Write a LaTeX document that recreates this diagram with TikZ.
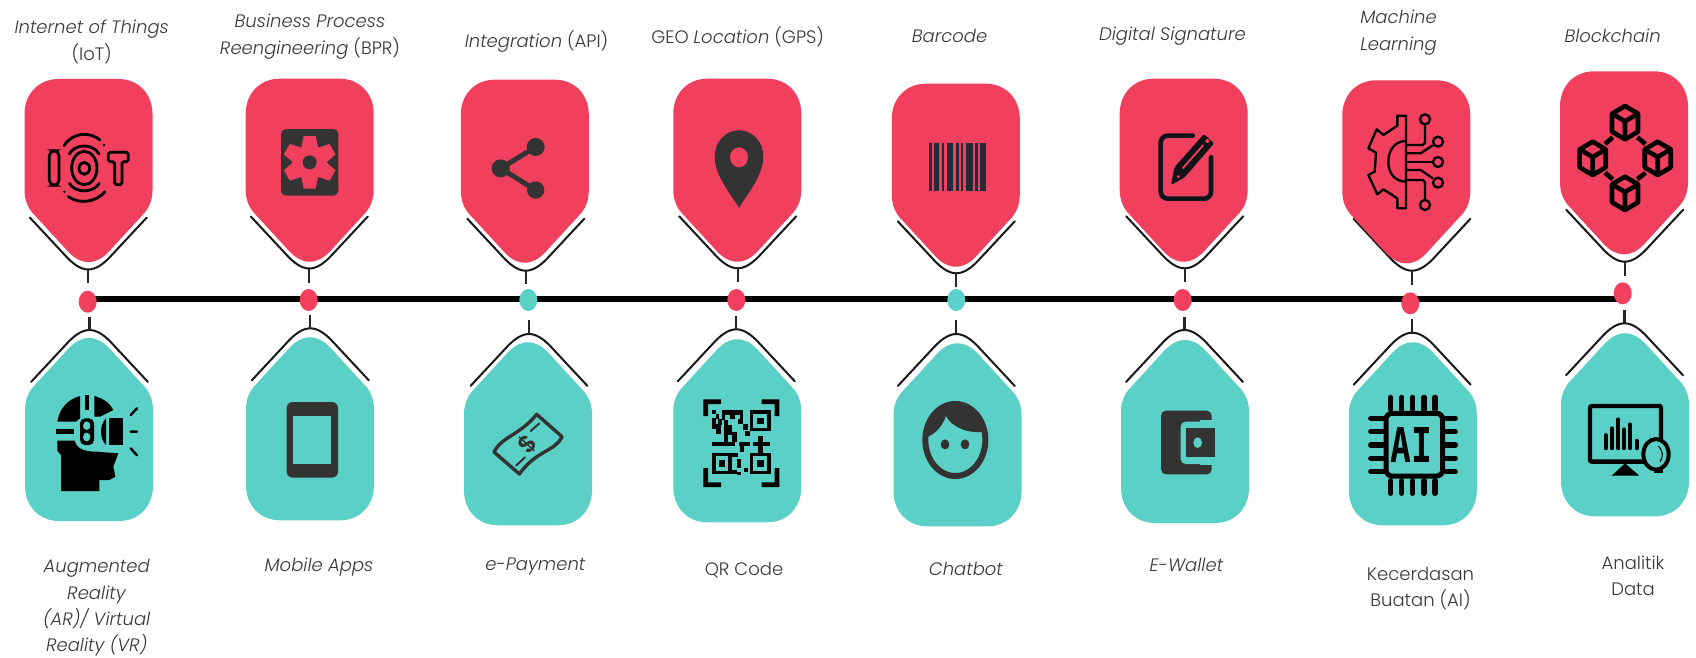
\documentclass[tikz,border=0pt]{standalone}
\usepackage{fontspec}
\usetikzlibrary{shapes.geometric}
\setmainfont{Poppins}[UprightFont=* Light,ItalicFont=* Light Italic]
\newfontfamily\aifont{DejaVu Sans Mono}
\definecolor{tagred}{HTML}{F0405E}
\definecolor{tagteal}{HTML}{5BD0C6}
\definecolor{icondark}{HTML}{333333}
\definecolor{barcodeink}{HTML}{232B3A}
\definecolor{penink}{HTML}{101418}
\definecolor{labelink}{HTML}{383838}
\tikzset{
  cupstyle/.style={draw=black!90,line width=1pt,line cap=round},
  stemstyle/.style={draw=black!85,line width=1.1pt},
  dotstyle/.style={ellipse,inner sep=0pt,minimum width=9pt,minimum height=11pt,draw=none},
  lab/.style={align=center,text=labelink,font=\fontsize{9}{13.2}\selectfont,inner sep=0pt},
  mainline/.style={draw=black,line width=3pt},
  zoomed/.style={x=0.16667pt,y=-0.16667pt},
}
\newcommand{\tagbody}[4]{%
  \begin{scope}[shift={(#1,#2)},yscale=#3]
    \fill[#4] (0,0) .. controls (-8,0) and (-14,-4) .. (-20,-10) -- (-54,-47)
      .. controls (-60,-53) and (-64,-61) .. (-64,-72) -- (-64,-148)
      .. controls (-64,-168) and (-50,-183) .. (-30,-183) -- (30,-183)
      .. controls (50,-183) and (64,-168) .. (64,-148) -- (64,-72)
      .. controls (64,-61) and (60,-53) .. (54,-47) -- (20,-10)
      .. controls (14,-4) and (8,0) .. (0,0) -- cycle;
  \end{scope}}
\newcommand{\cupline}[4]{%
  \coordinate (#1) at (#2,#3);
  \begin{scope}[shift={(#2,#3)},yscale=#4]
    \draw[cupstyle] (-58.5,-52) -- (-24,-15) .. controls (-16,-6) and (-8,0) .. (0,0)
      .. controls (8,0) and (16,-6) .. (24,-15) -- (58.5,-52);
  \end{scope}}
\begin{document}
\begin{tikzpicture}[x=0.5pt,y=-0.5pt]
\useasboundingbox (0,0) rectangle (1696,658);
\fill[white] (0,0) rectangle (1696,658);
% timeline
\coordinate (lineL) at (88,299.3);
\coordinate (lineR) at (1620,299.3);
\draw[mainline] (lineL) -- (lineR);
\foreach \n/\x/\y/\c in {1/87.7/301.7/tagred,2/308.7/300/tagred,3/528.3/300/tagteal,4/736.3/300/tagred,5/956.3/300/tagteal,6/1182.7/300/tagred,7/1410.3/303.3/tagred,8/1622.7/293.3/tagred}{
  \node[dotstyle,fill=\c] (dot\n) at (\x,\y) {};
}
% upper cups and stems
\foreach \n/\x/\a/\g in {1/88.3/269.5/3.85,2/309.3/268.5/3,3/525.8/270.7/2.5,4/737.7/268.3/3.15,5/956.3/273.3/1,6/1184.7/268.3/3.15,7/1412/270.7/3.65,8/1624.7/261.7/3.15}{
  \cupline{upc\n}{\x}{\a}{1}
  \draw[stemstyle,shorten >=\g pt] (upc\n) -- (upc\n |- dot\n.north);
}
% lower cups and stems
\foreach \n/\x/\a/\g in {1/89.5/330/2,2/310.3/328.3/2,3/529/334/4.15,4/736.3/329.3/2.5,5/956.3/334/4.15,6/1184.5/330/2.85,7/1412.2/332.7/2,8/1624.5/323.3/2.5}{
  \cupline{loc\n}{\x}{\a}{-1}
  \draw[stemstyle,shorten >=\g pt] (loc\n) -- (loc\n |- dot\n.south);
}
% tag bodies
\foreach \x/\a in {88.5/262,309.7/261.7,524.8/262.7,737.3/261.7,955.8/266.7,1183.7/261.7,1406.3/263.3,1624/254.3}{
  \tagbody{\x}{\a}{1}{tagred}
}
\foreach \x/\a in {89/338,310/337.3,528/342.3,737.3/339.3,957.5/343.3,1185/340,1412.8/342.3,1625/333.3}{
  \tagbody{\x}{\a}{-1}{tagteal}
}
% ---- red icons ----
% IoT
\begin{scope}[zoomed,draw=black,line width=1.4pt,line cap=round]
  \draw[rounded corners=2.6pt] (148,452) rectangle (177,556);
  \draw (253,504) ellipse [x radius=38,y radius=50];
  \draw (253,505) ellipse [x radius=16,y radius=18];
  \draw (208,462) .. controls (225,430) and (280,430) .. (297,462);
  \draw (192,437) .. controls (220,395) and (270,395) .. (300,420);
  \draw (208,550) .. controls (225,580) and (280,580) .. (298,550);
  \draw (205,590) .. controls (240,615) and (290,605) .. (315,575);
  \fill (312,435) circle (4); \fill (193,575) circle (4);
  \draw[rounded corners=0.9pt] (325,457) -- (385,457) -- (385,485) -- (366,485) -- (366,554) -- (344,554) -- (344,485) -- (325,485) -- cycle;
\end{scope}
% BPR gear
\begin{scope}[zoomed]
  \fill[icondark,rounded corners=2.5pt] (843,387) rectangle (1015,587);
  \fill[tagred] (929,487) circle (52);
  \foreach \a in {0,60,120,180,240,300}{
    \begin{scope}[shift={(929,487)},rotate=\a]
      \fill[tagred] (-18,-79) -- (18,-79) -- (25,-45) -- (-25,-45) -- cycle;
    \end{scope}
  }
  \fill[icondark] (929,487) circle (21);
\end{scope}
% share
\begin{scope}[shift={(440,60)},zoomed]
  \draw[icondark,line width=2.5pt] (287,261) -- (182,325) -- (287,390);
  \fill[icondark] (182,325) circle (27) (287,261) circle (27) (287,390) circle (26);
\end{scope}
% pin
\begin{scope}[shift={(440,60)},zoomed]
  \fill[icondark] (897,443) .. controls (870,400) and (824,345) .. (824,290)
    .. controls (824,245) and (857,211) .. (897,211)
    .. controls (937,211) and (970,245) .. (970,290)
    .. controls (970,345) and (924,400) .. (897,443) -- cycle;
  \fill[tagred] (897,292) ellipse [x radius=27,y radius=30];
\end{scope}
% barcode
\begin{scope}[shift={(920,135)},zoomed]
  \foreach \a/\b in {27/35,41/57,65/73,80/100,108/116,122/130,138/158,166/173,181/197}{
    \fill[barcodeink] (\a,25) rectangle (\b,168);
  }
\end{scope}
% signature
\begin{scope}[shift={(860,60)},zoomed]
  \draw[penink,line width=2.3pt,line cap=round,rounded corners=3.5pt] (998,227) -- (902,227) -- (902,416) -- (1053,416) -- (1053,292);
  \fill[penink,rounded corners=1pt] (933,375) -- (943,322) -- (1032,222) -- (1062,250) -- (974,352) -- cycle;
  \draw[tagred,line width=0.9pt] (968,325) -- (1030,255);
  \fill[tagred] (1042,243) circle (6) (955,350) circle (5);
\end{scope}
% machine learning
\begin{scope}[shift={(1300,60)},zoomed,line width=1.15pt]
  \draw[black,line join=round] (318,167) -- (292,167) -- (292,197) -- (250,225) -- (230,208) -- (205,265) -- (228,278) -- (224,335) -- (205,345) -- (232,403) -- (250,388) -- (292,415) -- (292,445) -- (318,445) -- cycle;
  \draw[black] (318,243) .. controls (285,243) and (265,270) .. (265,305) .. controls (265,340) and (285,365) .. (318,365);
  \draw[black] (318,255) -- (368,255) -- (375,248) -- (375,194);
  \draw[black] (318,280) -- (362,280) -- (398,256);
  \draw[black] (318,305) -- (398,305);
  \draw[black] (318,330) -- (362,330) -- (398,355);
  \draw[black] (318,360) -- (368,360) -- (375,367) -- (375,420);
  \draw[black] (375,178) circle (15) (414,245) circle (15) (414,306) circle (15) (414,368) circle (15) (375,435) circle (15);
\end{scope}
% blockchain
\begin{scope}[shift={(1300,60)},zoomed,line width=2.3pt,line join=round]
  \foreach \cx/\cy in {975/188,1073/295,975/400,878/295}{
    \begin{scope}[shift={(\cx,\cy)}]
      \draw[black] (0,-50) -- (39,-27) -- (39,27) -- (0,50) -- (-39,27) -- (-39,-27) -- cycle;
      \draw[black] (-39,-27) -- (0,-4) -- (39,-27) (0,-4) -- (0,50);
    \end{scope}
  }
  \draw[black] (938,232) -- (915,252) (1012,232) -- (1036,252) (915,338) -- (938,358) (1036,338) -- (1012,358);
\end{scope}
% ---- teal icons ----
% AR / VR head
\begin{scope}[shift={(0,320)},zoomed]
  \fill[black] (172,305) .. controls (178,265) and (205,237) .. (240,228) -- (240,295) -- (228,305) -- cycle;
  \fill[black] (283,228) .. controls (310,235) and (330,250) .. (340,270) -- (300,290) -- (283,290) -- cycle;
  \fill[black] (255,225) rectangle (268,270);
  \fill[black] (168,328) rectangle (222,342);
  \fill[black] (172,362) -- (224,362) .. controls (230,385) and (250,395) .. (290,395) -- (355,400) -- (340,440) -- (346,470) -- (328,480) -- (298,480) -- (298,513) -- (183,513) -- (183,405) -- (172,392) -- cycle;
  \fill[black,rounded corners=2.5pt] (240,295) rectangle (282,375);
  \fill[tagteal] (260,317) ellipse [x radius=11,y radius=13] (260,351) ellipse [x radius=11,y radius=13];
  \fill[black] (318,295) .. controls (298,315) and (298,355) .. (318,375) -- (318,295);
  \fill[black] (328,293) rectangle (370,375);
  \draw[black,line width=1.2pt,line cap=round] (392,285) -- (411,265) (392,335) -- (411,335) (392,385) -- (411,406);
\end{scope}
% tablet
\begin{scope}[shift={(0,320)},zoomed]
  \fill[icondark,rounded corners=3pt] (860,246) rectangle (1014,473);
  \fill[tagteal] (880,288) rectangle (994,433);
\end{scope}
% money
\begin{scope}[shift={(440,320)},zoomed]
  \draw[icondark,line width=1.7pt,line join=round,line cap=round] (290,283) -- (366,350) .. controls (345,395) and (290,390) .. (238,462) -- (162,396) .. controls (185,350) and (240,345) .. (290,283) -- cycle;
  \draw[icondark,line width=1pt,line cap=round] (298,310) -- (272,333) (228,437) -- (255,412);
  \node[text=icondark,font=\fontsize{12}{12}\bfseries\selectfont,rotate=48,inner sep=0pt] (moneysign) at (263,372) {\$};
\end{scope}
% QR
\begin{scope}[shift={(695,392)},zoomed,black]
  \fill (25,22) -- (78,22) -- (78,36) -- (39,36) -- (39,72) -- (25,72) -- cycle;
  \fill (253,22) -- (200,22) -- (200,36) -- (239,36) -- (239,72) -- (253,72) -- cycle;
  \fill (25,285) -- (78,285) -- (78,271) -- (39,271) -- (39,228) -- (25,228) -- cycle;
  \fill (253,285) -- (200,285) -- (200,271) -- (239,271) -- (239,228) -- (253,228) -- cycle;
  \foreach \a/\b/\c/\d in {165/55/227/118,52/182/110/247,165/182/227/247}{
    \fill (\a,\b) rectangle (\c,\d);
    \fill[tagteal] (\a+10,\b+10) rectangle (\c-10,\d-10);
    \fill (\a+21,\b+23) rectangle (\c-21,\d-23);
  }
  \foreach \a/\b/\c/\d in {52/55/64/66,80/55/145/68,62/66/72/80,52/78/62/110,80/68/90/85,105/68/120/80,135/68/145/82,62/95/78/125,70/80/80/100,88/85/100/150,100/100/112/130,112/120/125/150,145/95/160/115,130/80/145/95,150/118/165/132,52/150/120/163,132/150/165/163,135/163/148/180,175/150/225/163,190/132/205/150,190/163/205/182,125/200/138/228,125/240/138/250,110/235/125/247,148/228/160/240,110/182/128/195}{
    \fill (\a,\b) rectangle (\c,\d);
  }
\end{scope}
% face
\begin{scope}[shift={(860,320)},zoomed]
  \draw[icondark,line width=3pt] (286,360) ellipse [x radius=90,y radius=108];
  \fill[icondark] (195,345) -- (205,350) .. controls (235,335) and (250,310) .. (258,288) .. controls (275,320) and (320,342) .. (375,335) .. controls (370,280) and (330,245) .. (286,245) .. controls (235,245) and (195,290) .. (195,345) -- cycle;
  \fill[icondark] (255,373) ellipse [x radius=13,y radius=15] (315,373) ellipse [x radius=13,y radius=15];
\end{scope}
% wallet
\begin{scope}[shift={(860,320)},zoomed]
  \fill[icondark,rounded corners=2.5pt] (903,272) rectangle (1055,463);
  \fill[tagteal,rounded corners=2.5pt] (962,305) rectangle (1075,432);
  \fill[tagteal] (1020,300) rectangle (1075,436);
  \fill[icondark] (978,325) rectangle (1065,410);
  \fill[tagteal] (1013,368) ellipse [x radius=13,y radius=16];
\end{scope}
% AI chip
\begin{scope}[shift={(1300,320)},zoomed,black]
  \draw[line width=2.5pt,rounded corners=3pt] (258,280) rectangle (428,468);
  \draw[line width=2.6pt,line cap=round] \foreach \x in {272,305,338,372,405} {(\x,232) -- (\x,268) (\x,482) -- (\x,520)};
  \draw[line width=2.6pt,line cap=round] \foreach \y in {295,335,375,415,455} {(212,\y) -- (248,\y) (438,\y) -- (466,\y)};
  \node[font=\aifont\bfseries\fontsize{24}{24}\selectfont,xscale=0.72,inner sep=0pt,text=black] (aichip) at (335,376) {AI};
\end{scope}
% monitor with magnifier
\begin{scope}[shift={(1300,320)},zoomed,black]
  \draw[line width=2.2pt,rounded corners=1pt] (870,258) rectangle (1083,425);
  \fill (975,430) -- (1018,467) -- (935,467) -- cycle;
  \draw[line width=1.9pt,line cap=round] (917,345) -- (917,385) (935,325) -- (935,385) (955,298) -- (955,385) (972,328) -- (972,385) (990,313) -- (990,385) (1010,362) -- (1010,385);
  \draw[line width=2pt,fill=tagteal] (1068,403) ellipse [x radius=38,y radius=46];
  \draw[line width=0.5pt] (1075,378) .. controls (1090,395) and (1090,410) .. (1080,425);
  \fill (1062,450) rectangle (1090,460);
\end{scope}
% ---- labels ----
\node[lab] (t1) at (91.7,42) {\textit{Internet of Things}\\(IoT)};
\node[lab] (t2) at (310,36.5) {\textit{Business Process}\\\textit{Reengineering} (BPR)};
\node[lab] (t3) at (536.5,41.5) {\textit{Integration} (API)};
\node[lab] (t4) at (737.7,37) {GEO \textit{Location} (GPS)};
\node[lab] (t5) at (949.6,36) {\textit{Barcode}};
\node[lab] (t6) at (1172.4,36) {\textit{Digital Signature}};
\node[lab] (t7) at (1398.5,32.5) {\textit{Machine}\\\textit{Learning}};
\node[lab] (t8) at (1612.6,36) {\textit{Blockchain}};
\node[lab] (b1) at (96.7,608) {\textit{Augmented}\\\textit{Reality}\\\textit{(AR)/ Virtual}\\\textit{Reality (VR)}};
\node[lab] (b2) at (319,567) {\textit{Mobile Apps}};
\node[lab] (b3) at (535.4,566.5) {\textit{e-Payment}};
\node[lab] (b4) at (744,570) {QR Code};
\node[lab] (b5) at (966,568.5) {\textit{Chatbot}};
\node[lab] (b6) at (1186.5,564.6) {\textit{E-Wallet}};
\node[lab] (b7) at (1420.5,588.3) {Kecerdasan\\Buatan (AI)};
\node[lab] (b8) at (1633,576) {Analitik\\Data};
\end{tikzpicture}
\end{document}
